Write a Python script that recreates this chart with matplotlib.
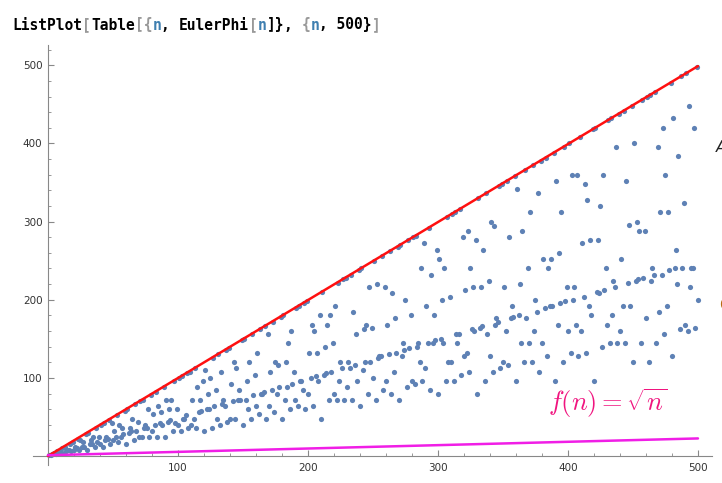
import numpy as np
import matplotlib.pyplot as plt
from matplotlib.transforms import offset_copy

# EulerPhi[n] for n = 1..500, as listed by the plot
n = list(range(1, 501))
phi = [
    1, 1, 2, 2, 4, 2, 6, 4, 6, 4, 10, 4, 12, 6, 8, 8, 16, 6, 18, 8,
    12, 10, 22, 8, 20, 12, 18, 12, 28, 8, 30, 16, 20, 16, 24, 12, 36, 18, 24, 16,
    40, 12, 42, 20, 24, 22, 46, 16, 42, 20, 32, 24, 52, 18, 40, 24, 36, 28, 58, 16,
    60, 30, 36, 32, 48, 20, 66, 32, 44, 24, 70, 24, 72, 36, 40, 36, 60, 24, 78, 32,
    54, 40, 82, 24, 64, 42, 56, 40, 88, 24, 72, 44, 60, 46, 72, 32, 96, 42, 60, 40,
    100, 32, 102, 48, 48, 52, 106, 36, 108, 40, 72, 48, 112, 36, 88, 56, 72, 58, 96, 32,
    110, 60, 80, 60, 100, 36, 126, 64, 84, 48, 130, 40, 108, 66, 72, 64, 136, 44, 138, 48,
    92, 70, 120, 48, 112, 72, 84, 72, 148, 40, 150, 72, 96, 60, 120, 48, 156, 78, 104, 64,
    132, 54, 162, 80, 80, 82, 166, 48, 156, 64, 108, 84, 172, 56, 120, 80, 116, 88, 178, 48,
    180, 72, 120, 88, 144, 60, 160, 92, 108, 72, 190, 64, 192, 96, 96, 84, 196, 60, 198, 80,
    132, 100, 168, 64, 160, 102, 132, 96, 180, 48, 210, 104, 140, 106, 168, 72, 180, 108, 144, 80,
    192, 72, 222, 96, 120, 112, 226, 72, 228, 88, 120, 112, 232, 72, 184, 116, 156, 96, 238, 64,
    240, 110, 162, 120, 168, 80, 216, 120, 164, 100, 250, 72, 220, 126, 128, 128, 256, 84, 216, 96,
    168, 130, 262, 80, 208, 108, 176, 132, 268, 72, 270, 128, 144, 136, 200, 88, 276, 138, 180, 96,
    280, 92, 282, 140, 144, 120, 240, 96, 272, 112, 192, 144, 292, 84, 232, 144, 180, 148, 264, 80,
    252, 150, 200, 144, 240, 96, 306, 120, 204, 120, 310, 96, 312, 156, 144, 156, 316, 104, 280, 128,
    212, 132, 288, 108, 240, 162, 216, 160, 276, 80, 330, 164, 216, 166, 264, 96, 336, 156, 224, 128,
    300, 108, 294, 168, 176, 172, 346, 112, 348, 120, 216, 160, 352, 116, 280, 176, 192, 178, 358, 96,
    342, 180, 220, 144, 288, 120, 366, 176, 240, 144, 312, 120, 372, 160, 200, 184, 336, 108, 378, 144,
    252, 190, 382, 128, 240, 192, 252, 192, 388, 96, 352, 168, 260, 196, 312, 120, 396, 198, 216, 160,
    400, 132, 360, 200, 216, 168, 360, 128, 408, 160, 272, 204, 348, 132, 328, 192, 276, 180, 418, 96,
    420, 210, 276, 208, 320, 140, 360, 212, 240, 168, 430, 144, 432, 180, 224, 216, 396, 144, 438, 160,
    252, 192, 442, 144, 352, 222, 296, 192, 448, 120, 400, 224, 300, 226, 288, 144, 456, 228, 288, 176,
    460, 120, 462, 224, 240, 232, 466, 144, 396, 184, 312, 232, 420, 156, 360, 192, 312, 238, 478, 128,
    432, 240, 264, 220, 384, 162, 486, 240, 324, 168, 490, 160, 448, 216, 240, 240, 420, 164, 498, 200,
]

# overlay lines
red_x = [0, 500]
red_y = [0, 499]
sqrt_x = [0, 500]
sqrt_y = [1, 22.5]

xticks = [100, 200, 300, 400, 500]
yticks = [100, 200, 300, 400, 500]

fig = plt.figure(figsize=(7.22, 4.83), dpi=100)
ax = fig.add_axes([33 / 722, 18 / 483, 679 / 722, 420 / 483])
ax.set_xlim(-11.5, 510.8)
ax.set_ylim(-11.5, 526)

ax.scatter(n, phi, s=14, color='#5e81b5', linewidths=0, zorder=2)
ax.plot(red_x, red_y, color='#ff1010', lw=1.8, zorder=3, solid_capstyle='round')
ax.plot(sqrt_x, sqrt_y, color='#f01ee6', lw=1.8, zorder=3, solid_capstyle='round')

ax.text(431, 67, r'$f(n) = \sqrt{n}$', color='#f0147f', fontsize=19,
        ha='center', va='center', math_fontfamily='cm')

for side in ['top', 'right']:
    ax.spines[side].set_visible(False)
ax.spines['left'].set_position(('data', 0))
ax.spines['bottom'].set_position(('data', 0))
for side in ['left', 'bottom']:
    ax.spines[side].set_color('#888888')
    ax.spines[side].set_linewidth(0.8)

ax.set_xticks(xticks)
ax.set_yticks(yticks)
ax.set_xticks(np.arange(20, 501, 20), minor=True)
ax.set_yticks(np.arange(20, 521, 20), minor=True)
ax.tick_params(which='both', direction='in', color='#888888', labelsize=7.5,
               labelcolor='#333333')
ax.tick_params(which='major', length=4, width=0.8)
ax.tick_params(which='minor', length=2.5, width=0.6)
ax.tick_params(axis='x', pad=5)
ax.tick_params(axis='y', pad=4)

# coloured title, monospace
title = [('ListPlot', 'black'), ('[', '#999999'), ('Table', 'black'),
         ('[{', '#999999'), ('n', '#3f7fb0'), (', ', 'black'),
         ('EulerPhi', 'black'), ('[', '#999999'), ('n', '#3f7fb0'),
         (']}', 'black'), (', ', 'black'), ('{', '#999999'), ('n', '#3f7fb0'),
         (', 500}', 'black'), (']', '#999999')]
fs = 10.5
pos = 0
for txt, col in title:
    tr = offset_copy(fig.transFigure, fig=fig, x=pos * 0.602 * fs, y=0, units='points')
    fig.text(12 / 722, 1 - 25 / 483, txt, transform=tr, fontsize=fs,
             family='DejaVu Sans Mono', weight='bold', color=col, va='center')
    pos += len(txt)

# clipped fragments at the right edge of the screenshot
fig.text(716 / 722, 1 - 147 / 483, 'A', fontsize=11, style='italic', color='#222222',
         va='center')
fig.text(719 / 722, 1 - 305 / 483, 'C', fontsize=11, color='#b86a10', va='center')

fig.savefig('out.png', dpi=100)
